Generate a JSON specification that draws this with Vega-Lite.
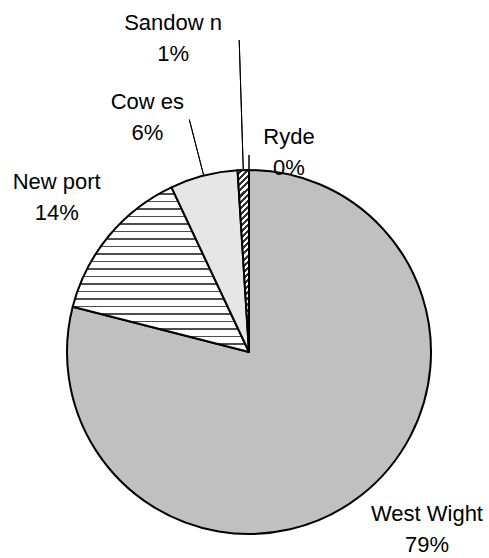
{
  "$schema": "https://vega.github.io/schema/vega-lite/v6.json",
  "autosize": {"type": "none"},
  "width": 480,
  "height": 364,
  "padding": {"left": 9, "top": 170, "right": 0, "bottom": 24},
  "background": "#ffffff",
  "config": {
    "view": {"stroke": null},
    "text": {"font": "Liberation Sans", "fontSize": 22, "lineHeight": 31, "color": "#000000", "align": "center", "baseline": "middle"}
  },
  "data": {
    "values": [
      {"area": "West Wight", "pct": 79},
      {"area": "New port", "pct": 14},
      {"area": "Cow es", "pct": 6},
      {"area": "Sandow n", "pct": 1},
      {"area": "Ryde", "pct": 0}
    ]
  },
  "transform": [
    {"window": [{"op": "row_number", "as": "idx"}]},
    {"stack": "pct", "groupby": [], "sort": [{"field": "idx", "order": "ascending"}], "as": ["p0", "p1"]},
    {"calculate": "(datum.p0 + datum.p1) / 2", "as": "pmid"},
    {"calculate": "[datum.area, datum.pct + '%']", "as": "label"}
  ],
  "layer": [
    {
      "mark": {"type": "arc", "radius": 182, "stroke": "#000000", "strokeWidth": 2, "strokeJoin": "round"},
      "encoding": {
        "theta": {"field": "p0", "type": "quantitative", "stack": null, "scale": {"domain": [0, 100], "range": [0, 6.283185307179586]}},
        "theta2": {"field": "p1"},
        "fill": {
          "condition": [
            {
              "test": "datum.area === 'New port'",
              "value": {
                "gradient": "linear", "x1": 0, "y1": 0, "x2": 0, "y2": 1,
                "stops": [
                  {"offset": 0, "color": "#ffffff"}, {"offset": 0.0364, "color": "#ffffff"}, {"offset": 0.0364, "color": "#4d4d4d"}, {"offset": 0.04545, "color": "#4d4d4d"},
                  {"offset": 0.04545, "color": "#ffffff"}, {"offset": 0.0819, "color": "#ffffff"}, {"offset": 0.0819, "color": "#4d4d4d"}, {"offset": 0.09091, "color": "#4d4d4d"},
                  {"offset": 0.09091, "color": "#ffffff"}, {"offset": 0.1273, "color": "#ffffff"}, {"offset": 0.1273, "color": "#4d4d4d"}, {"offset": 0.13636, "color": "#4d4d4d"},
                  {"offset": 0.13636, "color": "#ffffff"}, {"offset": 0.1728, "color": "#ffffff"}, {"offset": 0.1728, "color": "#4d4d4d"}, {"offset": 0.18182, "color": "#4d4d4d"},
                  {"offset": 0.18182, "color": "#ffffff"}, {"offset": 0.2182, "color": "#ffffff"}, {"offset": 0.2182, "color": "#4d4d4d"}, {"offset": 0.22727, "color": "#4d4d4d"},
                  {"offset": 0.22727, "color": "#ffffff"}, {"offset": 0.2637, "color": "#ffffff"}, {"offset": 0.2637, "color": "#4d4d4d"}, {"offset": 0.27273, "color": "#4d4d4d"},
                  {"offset": 0.27273, "color": "#ffffff"}, {"offset": 0.3091, "color": "#ffffff"}, {"offset": 0.3091, "color": "#4d4d4d"}, {"offset": 0.31818, "color": "#4d4d4d"},
                  {"offset": 0.31818, "color": "#ffffff"}, {"offset": 0.3546, "color": "#ffffff"}, {"offset": 0.3546, "color": "#4d4d4d"}, {"offset": 0.36364, "color": "#4d4d4d"},
                  {"offset": 0.36364, "color": "#ffffff"}, {"offset": 0.4, "color": "#ffffff"}, {"offset": 0.4, "color": "#4d4d4d"}, {"offset": 0.40909, "color": "#4d4d4d"},
                  {"offset": 0.40909, "color": "#ffffff"}, {"offset": 0.4455, "color": "#ffffff"}, {"offset": 0.4455, "color": "#4d4d4d"}, {"offset": 0.45455, "color": "#4d4d4d"},
                  {"offset": 0.45455, "color": "#ffffff"}, {"offset": 0.4909, "color": "#ffffff"}, {"offset": 0.4909, "color": "#4d4d4d"}, {"offset": 0.5, "color": "#4d4d4d"},
                  {"offset": 0.5, "color": "#ffffff"}, {"offset": 0.5364, "color": "#ffffff"}, {"offset": 0.5364, "color": "#4d4d4d"}, {"offset": 0.54545, "color": "#4d4d4d"},
                  {"offset": 0.54545, "color": "#ffffff"}, {"offset": 0.5819, "color": "#ffffff"}, {"offset": 0.5819, "color": "#4d4d4d"}, {"offset": 0.59091, "color": "#4d4d4d"},
                  {"offset": 0.59091, "color": "#ffffff"}, {"offset": 0.6273, "color": "#ffffff"}, {"offset": 0.6273, "color": "#4d4d4d"}, {"offset": 0.63636, "color": "#4d4d4d"},
                  {"offset": 0.63636, "color": "#ffffff"}, {"offset": 0.6728, "color": "#ffffff"}, {"offset": 0.6728, "color": "#4d4d4d"}, {"offset": 0.68182, "color": "#4d4d4d"},
                  {"offset": 0.68182, "color": "#ffffff"}, {"offset": 0.7182, "color": "#ffffff"}, {"offset": 0.7182, "color": "#4d4d4d"}, {"offset": 0.72727, "color": "#4d4d4d"},
                  {"offset": 0.72727, "color": "#ffffff"}, {"offset": 0.7637, "color": "#ffffff"}, {"offset": 0.7637, "color": "#4d4d4d"}, {"offset": 0.77273, "color": "#4d4d4d"},
                  {"offset": 0.77273, "color": "#ffffff"}, {"offset": 0.8091, "color": "#ffffff"}, {"offset": 0.8091, "color": "#4d4d4d"}, {"offset": 0.81818, "color": "#4d4d4d"},
                  {"offset": 0.81818, "color": "#ffffff"}, {"offset": 0.8546, "color": "#ffffff"}, {"offset": 0.8546, "color": "#4d4d4d"}, {"offset": 0.86364, "color": "#4d4d4d"},
                  {"offset": 0.86364, "color": "#ffffff"}, {"offset": 0.9, "color": "#ffffff"}, {"offset": 0.9, "color": "#4d4d4d"}, {"offset": 0.90909, "color": "#4d4d4d"},
                  {"offset": 0.90909, "color": "#ffffff"}, {"offset": 0.9455, "color": "#ffffff"}, {"offset": 0.9455, "color": "#4d4d4d"}, {"offset": 0.95455, "color": "#4d4d4d"},
                  {"offset": 0.95455, "color": "#ffffff"}, {"offset": 0.991, "color": "#ffffff"}, {"offset": 0.991, "color": "#4d4d4d"}, {"offset": 1, "color": "#4d4d4d"}
                ]
              }
            },
            {"test": "datum.area === 'Cow es'", "value": "#e6e6e6"},
            {
              "test": "datum.area === 'Sandow n'",
              "value": {
                "gradient": "linear", "x1": 0, "y1": 0, "x2": 0.0626, "y2": 1,
                "stops": [
                  {"offset": 0, "color": "#ffffff"}, {"offset": 0.0167, "color": "#ffffff"}, {"offset": 0.0167, "color": "#333333"}, {"offset": 0.0333, "color": "#333333"},
                  {"offset": 0.0333, "color": "#ffffff"}, {"offset": 0.05, "color": "#ffffff"}, {"offset": 0.05, "color": "#333333"}, {"offset": 0.0667, "color": "#333333"},
                  {"offset": 0.0667, "color": "#ffffff"}, {"offset": 0.0833, "color": "#ffffff"}, {"offset": 0.0833, "color": "#333333"}, {"offset": 0.1, "color": "#333333"},
                  {"offset": 0.1, "color": "#ffffff"}, {"offset": 0.1167, "color": "#ffffff"}, {"offset": 0.1167, "color": "#333333"}, {"offset": 0.1333, "color": "#333333"},
                  {"offset": 0.1333, "color": "#ffffff"}, {"offset": 0.15, "color": "#ffffff"}, {"offset": 0.15, "color": "#333333"}, {"offset": 0.1667, "color": "#333333"},
                  {"offset": 0.1667, "color": "#ffffff"}, {"offset": 0.1833, "color": "#ffffff"}, {"offset": 0.1833, "color": "#333333"}, {"offset": 0.2, "color": "#333333"},
                  {"offset": 0.2, "color": "#ffffff"}, {"offset": 0.2167, "color": "#ffffff"}, {"offset": 0.2167, "color": "#333333"}, {"offset": 0.2333, "color": "#333333"},
                  {"offset": 0.2333, "color": "#ffffff"}, {"offset": 0.25, "color": "#ffffff"}, {"offset": 0.25, "color": "#333333"}, {"offset": 0.2667, "color": "#333333"},
                  {"offset": 0.2667, "color": "#ffffff"}, {"offset": 0.2833, "color": "#ffffff"}, {"offset": 0.2833, "color": "#333333"}, {"offset": 0.3, "color": "#333333"},
                  {"offset": 0.3, "color": "#ffffff"}, {"offset": 0.3167, "color": "#ffffff"}, {"offset": 0.3167, "color": "#333333"}, {"offset": 0.3333, "color": "#333333"},
                  {"offset": 0.3333, "color": "#ffffff"}, {"offset": 0.35, "color": "#ffffff"}, {"offset": 0.35, "color": "#333333"}, {"offset": 0.3667, "color": "#333333"},
                  {"offset": 0.3667, "color": "#ffffff"}, {"offset": 0.3833, "color": "#ffffff"}, {"offset": 0.3833, "color": "#333333"}, {"offset": 0.4, "color": "#333333"},
                  {"offset": 0.4, "color": "#ffffff"}, {"offset": 0.4167, "color": "#ffffff"}, {"offset": 0.4167, "color": "#333333"}, {"offset": 0.4333, "color": "#333333"},
                  {"offset": 0.4333, "color": "#ffffff"}, {"offset": 0.45, "color": "#ffffff"}, {"offset": 0.45, "color": "#333333"}, {"offset": 0.4667, "color": "#333333"},
                  {"offset": 0.4667, "color": "#ffffff"}, {"offset": 0.4833, "color": "#ffffff"}, {"offset": 0.4833, "color": "#333333"}, {"offset": 0.5, "color": "#333333"},
                  {"offset": 0.5, "color": "#ffffff"}, {"offset": 0.5167, "color": "#ffffff"}, {"offset": 0.5167, "color": "#333333"}, {"offset": 0.5333, "color": "#333333"},
                  {"offset": 0.5333, "color": "#ffffff"}, {"offset": 0.55, "color": "#ffffff"}, {"offset": 0.55, "color": "#333333"}, {"offset": 0.5667, "color": "#333333"},
                  {"offset": 0.5667, "color": "#ffffff"}, {"offset": 0.5833, "color": "#ffffff"}, {"offset": 0.5833, "color": "#333333"}, {"offset": 0.6, "color": "#333333"},
                  {"offset": 0.6, "color": "#ffffff"}, {"offset": 0.6167, "color": "#ffffff"}, {"offset": 0.6167, "color": "#333333"}, {"offset": 0.6333, "color": "#333333"},
                  {"offset": 0.6333, "color": "#ffffff"}, {"offset": 0.65, "color": "#ffffff"}, {"offset": 0.65, "color": "#333333"}, {"offset": 0.6667, "color": "#333333"},
                  {"offset": 0.6667, "color": "#ffffff"}, {"offset": 0.6833, "color": "#ffffff"}, {"offset": 0.6833, "color": "#333333"}, {"offset": 0.7, "color": "#333333"},
                  {"offset": 0.7, "color": "#ffffff"}, {"offset": 0.7167, "color": "#ffffff"}, {"offset": 0.7167, "color": "#333333"}, {"offset": 0.7333, "color": "#333333"},
                  {"offset": 0.7333, "color": "#ffffff"}, {"offset": 0.75, "color": "#ffffff"}, {"offset": 0.75, "color": "#333333"}, {"offset": 0.7667, "color": "#333333"},
                  {"offset": 0.7667, "color": "#ffffff"}, {"offset": 0.7833, "color": "#ffffff"}, {"offset": 0.7833, "color": "#333333"}, {"offset": 0.8, "color": "#333333"},
                  {"offset": 0.8, "color": "#ffffff"}, {"offset": 0.8167, "color": "#ffffff"}, {"offset": 0.8167, "color": "#333333"}, {"offset": 0.8333, "color": "#333333"},
                  {"offset": 0.8333, "color": "#ffffff"}, {"offset": 0.85, "color": "#ffffff"}, {"offset": 0.85, "color": "#333333"}, {"offset": 0.8667, "color": "#333333"},
                  {"offset": 0.8667, "color": "#ffffff"}, {"offset": 0.8833, "color": "#ffffff"}, {"offset": 0.8833, "color": "#333333"}, {"offset": 0.9, "color": "#333333"},
                  {"offset": 0.9, "color": "#ffffff"}, {"offset": 0.9167, "color": "#ffffff"}, {"offset": 0.9167, "color": "#333333"}, {"offset": 0.9333, "color": "#333333"},
                  {"offset": 0.9333, "color": "#ffffff"}, {"offset": 0.95, "color": "#ffffff"}, {"offset": 0.95, "color": "#333333"}, {"offset": 0.9667, "color": "#333333"},
                  {"offset": 0.9667, "color": "#ffffff"}, {"offset": 0.9833, "color": "#ffffff"}, {"offset": 0.9833, "color": "#333333"}, {"offset": 1, "color": "#333333"}
                ]
              }
            }
          ],
          "value": "#c0c0c0"
        }
      }
    },
    {
      "transform": [{"filter": "datum.area === 'Cow es'"}],
      "mark": {"type": "arc", "radius": 240, "radius2": 183, "stroke": "#000000", "strokeWidth": 1, "fill": null},
      "encoding": {"theta": {"field": "pmid", "type": "quantitative", "stack": null}, "theta2": {"field": "pmid"}}
    },
    {
      "transform": [{"filter": "datum.area === 'Sandow n'"}],
      "mark": {"type": "arc", "radius": 312, "radius2": 183, "stroke": "#000000", "strokeWidth": 1, "fill": null},
      "encoding": {"theta": {"field": "pmid", "type": "quantitative", "stack": null}, "theta2": {"field": "pmid"}}
    },
    {
      "transform": [{"filter": "datum.area === 'Ryde'"}],
      "mark": {"type": "arc", "radius": 197, "radius2": 182, "stroke": "#000000", "strokeWidth": 1, "fill": null},
      "encoding": {"theta": {"field": "pmid", "type": "quantitative", "stack": null}, "theta2": {"field": "pmid"}}
    },
    {
      "transform": [{"filter": "datum.area === 'West Wight'"}],
      "mark": {"type": "text", "radius": 252, "dx": 23.5, "dy": -37},
      "encoding": {"theta": {"field": "pmid", "type": "quantitative", "stack": null}, "text": {"field": "label", "type": "nominal"}}
    },
    {
      "transform": [{"filter": "datum.area === 'New port'"}],
      "mark": {"type": "text", "radius": 247, "dx": -2, "dy": -12.5},
      "encoding": {"theta": {"field": "pmid", "type": "quantitative", "stack": null}, "text": {"field": "label", "type": "nominal"}}
    },
    {
      "transform": [{"filter": "datum.area === 'Cow es'"}],
      "mark": {"type": "text", "radius": 252, "dx": -39, "dy": -5.5},
      "encoding": {"theta": {"field": "pmid", "type": "quantitative", "stack": null}, "text": {"field": "label", "type": "nominal"}}
    },
    {
      "transform": [{"filter": "datum.area === 'Sandow n'"}],
      "mark": {"type": "text", "radius": 316, "dx": -66, "dy": -13.5},
      "encoding": {"theta": {"field": "pmid", "type": "quantitative", "stack": null}, "text": {"field": "label", "type": "nominal"}}
    },
    {
      "transform": [{"filter": "datum.area === 'Ryde'"}],
      "mark": {"type": "text", "radius": 200, "dx": 40, "dy": -15.5},
      "encoding": {"theta": {"field": "pmid", "type": "quantitative", "stack": null}, "text": {"field": "label", "type": "nominal"}}
    }
  ]
}
